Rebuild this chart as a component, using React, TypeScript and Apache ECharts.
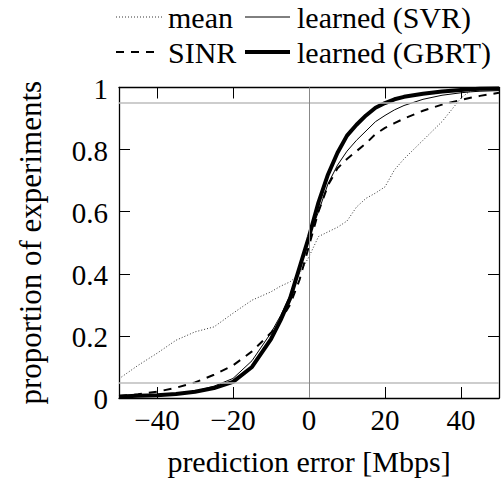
import React, { useEffect, useRef } from "react";
import * as echarts from "echarts";

const errors = [-50, -45, -40, -35, -30, -25, -20, -15, -10, -7.5, -5, -2.5, 0, 2.5, 5, 7.5, 10, 12.5, 15, 17.5, 20, 22.5, 25, 30, 35, 40, 42.5, 45, 50];
const meanCdf = [0.062, 0.105, 0.144, 0.186, 0.213, 0.229, 0.273, 0.315, 0.342, 0.36, 0.374, 0.4, 0.455, 0.52, 0.535, 0.55, 0.57, 0.615, 0.643, 0.66, 0.68, 0.735, 0.77, 0.83, 0.89, 0.966, 0.99, 0.993, 0.995];
const sinrCdf = [0.006, 0.012, 0.02, 0.033, 0.05, 0.075, 0.105, 0.15, 0.21, 0.25, 0.3, 0.38, 0.49, 0.6, 0.685, 0.74, 0.77, 0.795, 0.82, 0.85, 0.87, 0.885, 0.9, 0.925, 0.945, 0.96, 0.967, 0.973, 0.983];
const svrCdf = [0.003, 0.005, 0.008, 0.013, 0.022, 0.038, 0.063, 0.12, 0.21, 0.265, 0.33, 0.42, 0.52, 0.6, 0.69, 0.75, 0.795, 0.83, 0.86, 0.89, 0.91, 0.928, 0.942, 0.962, 0.975, 0.983, 0.986, 0.988, 0.99];
const gbrtCdf = [0.005, 0.007, 0.009, 0.013, 0.02, 0.032, 0.052, 0.1, 0.19, 0.25, 0.32, 0.42, 0.52, 0.63, 0.72, 0.79, 0.845, 0.88, 0.91, 0.935, 0.95, 0.962, 0.97, 0.98, 0.987, 0.992, 0.994, 0.996, 0.997];

const seriesNames = ["mean", "learned (SVR)", "SINR", "learned (GBRT)"];
const xTicks = [-40, -20, 0, 20, 40];
const yTicks = [0, 0.2, 0.4, 0.6, 0.8, 1];
const refLevels = [0.05, 0.95];
const refX = [0];
const xTitle = "prediction error [Mbps]";
const yTitle = "proportion of experiments";

const FONT = "Liberation Serif";

const pairs = (ys: number[]) => errors.map((x, i) => [x, ys[i]]);

const styles: Record<string, { width: number; dash?: number[] }> = {
  mean: { width: 0.8, dash: [1, 2] },
  "learned (SVR)": { width: 1 },
  SINR: { width: 2, dash: [8, 7] },
  "learned (GBRT)": { width: 4 },
};

export default function App() {
  const ref = useRef<HTMLDivElement>(null);
  useEffect(() => {
    if (!ref.current) return;
    document.body.style.margin = "0";
    const chart = echarts.init(ref.current, undefined, { renderer: "svg" });
    const axisLineStyle = { color: "#000", width: 1.3 };
    const tick = { show: true, inside: true, length: 11, lineStyle: { color: "#000", width: 1 } };
    const dataSets = [meanCdf, svrCdf, sinrCdf, gbrtCdf];
    chart.setOption({
      animation: false,
      grid: { left: 119, right: 3, top: 87.5, bottom: 82, containLabel: false },
      xAxis: [
        {
          type: "value", min: -50, max: 50,
          axisLine: { show: true, onZero: false, lineStyle: axisLineStyle },
          axisTick: { ...tick, customValues: xTicks },
          axisLabel: { show: false },
          splitLine: { show: false },
        },
        {
          type: "value", position: "top", min: -50, max: 50,
          axisLine: { show: true, onZero: false, lineStyle: axisLineStyle },
          axisTick: { ...tick, customValues: xTicks },
          axisLabel: { show: false },
          splitLine: { show: false },
        },
      ],
      yAxis: [
        {
          type: "value", min: 0, max: 1, interval: 0.2,
          axisLine: { show: true, onZero: false, lineStyle: axisLineStyle },
          axisTick: tick,
          axisLabel: { show: false },
          splitLine: { show: false },
        },
        {
          type: "value", position: "right", min: 0, max: 1, interval: 0.2,
          axisLine: { show: true, onZero: false, lineStyle: axisLineStyle },
          axisTick: tick,
          axisLabel: { show: false },
          splitLine: { show: false },
        },
      ],
      series: seriesNames.map((name, i) => ({
        name,
        type: "line",
        symbol: "none",
        data: pairs(dataSets[i]),
        lineStyle: { color: "#000", width: styles[name].width, type: styles[name].dash || "solid" },
        itemStyle: { color: "#000" },
        ...(i === 0
          ? {
              markLine: {
                silent: true,
                symbol: "none",
                label: { show: false },
                data: [
                  ...refLevels.map((v) => ({ yAxis: v, lineStyle: { color: "#bdbdbd", width: 1.6, type: "solid" } })),
                  ...refX.map((v) => ({ xAxis: v, lineStyle: { color: "#888", width: 1, type: "solid" } })),
                ],
              },
            }
          : {}),
      })),
    });

    const px = (v: number) => chart.convertToPixel({ xAxisIndex: 0 }, v) as number;
    const py = (v: number) => chart.convertToPixel({ yAxisIndex: 0 }, v) as number;
    const x0 = px(-50);
    const x1 = px(50);
    const y0 = py(0);
    const y1 = py(1);
    const txt = (text: string, x: number, y: number, size: number, align: string, extra: any = {}) => ({
      type: "text",
      x,
      y,
      silent: true,
      ...extra,
      style: { text, fontFamily: FONT, fontSize: size, fill: "#000", align, verticalAlign: "middle" },
    });

    const graphics: any[] = [];
    xTicks.forEach((v) => graphics.push(txt(String(v).replace("-", "\u2212"), px(v), y0 + 22, 29, "center")));
    yTicks.forEach((v) => graphics.push(txt(String(v), x0 - 11, py(v) + 1, 29, "right")));
    graphics.push(txt(xTitle, (x0 + x1) / 2, y0 + 63, 30, "center"));
    graphics.push(txt(yTitle, 30, (y0 + y1) / 2, 31, "center", { rotation: Math.PI / 2 }));

    const legendCols = [116, 245];
    const legendRows = [17, 52];
    const iconW = [46, 45];
    seriesNames.forEach((name, k) => {
      const col = k % 2;
      const row = Math.floor(k / 2);
      const lx = legendCols[col];
      const ly = legendRows[row];
      const st = styles[name];
      const w = name === "SINR" ? 39 : iconW[col];
      graphics.push({
        type: "line",
        silent: true,
        shape: { x1: lx, y1: ly, x2: lx + w, y2: ly },
        style: { stroke: "#000", lineWidth: st.width, lineDash: st.dash || null },
      });
      graphics.push(txt(name, lx + 52, ly, 30, "left"));
    });

    chart.setOption({ graphic: graphics });
    return () => chart.dispose();
  }, []);
  return <div ref={ref} style={{ width: 502, height: 480 }} />;
}
